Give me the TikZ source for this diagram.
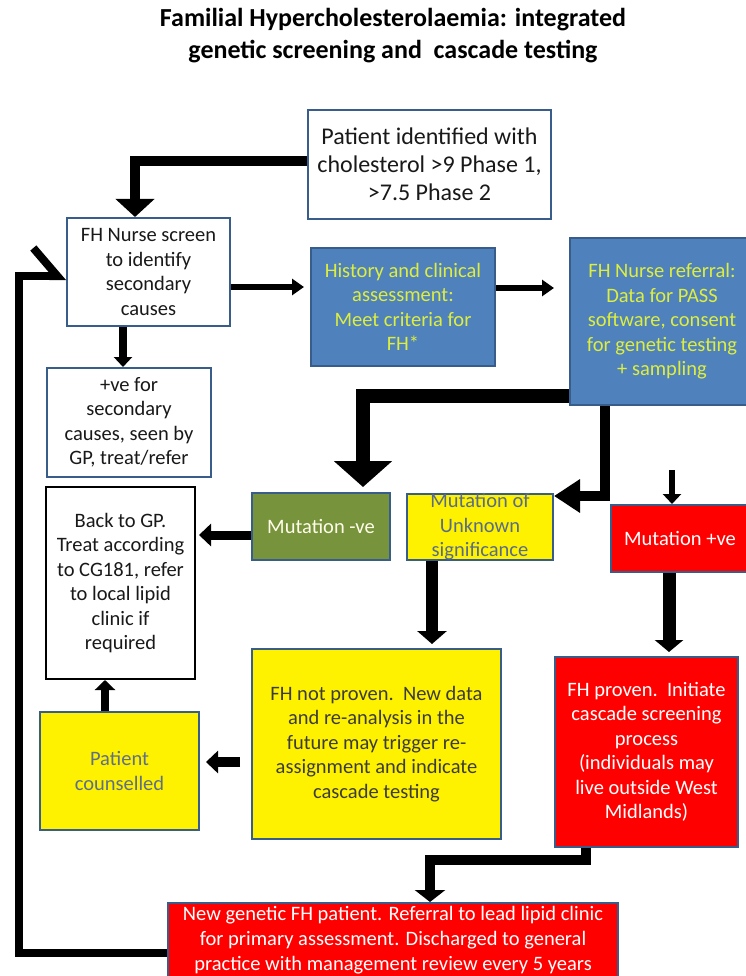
\documentclass[tikz,border=0pt]{standalone}
\usepackage{fontspec}
\setmainfont{Carlito}
\usetikzlibrary{arrows.meta}

\definecolor{boxedge}{RGB}{56,93,138}
\definecolor{boxblue}{RGB}{79,129,189}
\definecolor{boxolive}{RGB}{119,147,60}
\definecolor{hilite}{RGB}{222,238,62}
\definecolor{slate}{RGB}{88,108,138}
\definecolor{darktext}{RGB}{60,60,55}

\tikzset{
  fhbox/.style={draw=boxedge, line width=2pt, inner sep=0pt, align=center,
    font=\fontsize{20.5}{24.5}\selectfont},
  whitebox/.style={fhbox, fill=white, text=black!90},
  bluebox/.style={fhbox, fill=boxblue, text=hilite},
  olivebox/.style={fhbox, fill=boxolive, text=white!92!yellow},
  yellowbox/.style={fhbox, fill=yellow, text=slate},
  redbox/.style={fhbox, fill=red, text=white},
  blk/.style n args={3}{draw=black, line width=#1,
    -{Triangle[width=#2pt, length=#3pt]}},
}

\begin{document}
\begin{tikzpicture}[x=1pt, y=-1pt]
  \clip (0,0) rectangle (746,976);
  \fill[white] (0,0) rectangle (746,976);

  % title
  \node[align=center, font=\fontsize{26}{32}\selectfont\bfseries] (title) at (393,36)
    {Familial Hypercholesterolaemia: integrated\\genetic screening and\ \ cascade testing};

  % top row
  \node[whitebox, minimum width=243, minimum height=109, font=\fontsize{24}{28}\selectfont]
    (patient) at (429.5,164.5) {Patient identified with\\cholesterol >9 Phase 1,\\>7.5 Phase 2};
  \node[whitebox, minimum width=163, minimum height=108] (nurse) at (148.5,272)
    {FH\ Nurse screen\\to identify\\secondary\\causes};
  \node[bluebox, minimum width=184, minimum height=118] (history) at (403,307)
    {History and clinical\\assessment:\\Meet criteria for\\FH*};
  \node[bluebox, minimum width=184, minimum height=167] (referral) at (662,321.5)
    {FH\ Nurse referral:\\Data for PASS\\software, consent\\for genetic testing\\+ sampling};
  \node[whitebox, minimum width=164, minimum height=109] (plusve) at (129,422.5)
    {+ve for\\secondary\\causes, seen by\\GP, treat/refer};

  % test results
  \node[whitebox, draw=black, minimum width=149, minimum height=192] (backgp) at (120.5,583)
    {Back to GP.\\Treat according\\to CG181, refer\\to local lipid\\clinic if\\required};
  \node[olivebox, minimum width=138, minimum height=67] (mutneg) at (321,526.5) {Mutation -ve};
  \node[yellowbox, minimum width=146, minimum height=66,
    label={[align=center, text=slate, font=\fontsize{20.5}{24.5}\selectfont]center:Mutation of\\Unknown\\significance}]
    (unknown) at (480,527) {};
  \node[redbox, minimum width=138, minimum height=67] (mutpos) at (680,538.5) {Mutation +ve};

  % outcomes
  \node[yellowbox, text=darktext, minimum width=249, minimum height=190] (notproven) at (376.5,744)
    {FH not proven.\ \ New data\\and re-analysis in the\\future may trigger re-\\assignment and indicate\\cascade testing};
  \node[yellowbox, text=slate!85!gray, minimum width=159, minimum height=118] (counselled) at (119.5,771)
    {Patient\\counselled};
  \node[redbox, minimum width=183, minimum height=190] (proven) at (646.5,752)
    {FH proven.\ \ Initiate\\cascade screening\\process\\(individuals may\\live outside West\\Midlands)};
  \node[redbox, minimum width=450, minimum height=74, font=\fontsize{20.5}{25}\selectfont] (newfh) at (393,940)
    {New genetic FH patient. Referral to lead lipid clinic\\for primary assessment. Discharged to general\\practice with management review every 5 years};

  % connectors
  \draw[blk={10}{38}{18}] (patient.west |- 0,161) -| ([xshift=-13.5]nurse.north);
  \draw[blk={6}{16}{12}, shorten >=6] (nurse.east |- 0,287) -- (history.west |- 0,287);
  \draw[blk={6}{16}{12}, shorten >=15] (history.east |- 0,288) -- (referral.west |- 0,288);
  \draw[blk={8}{18}{10}] ([xshift=-25.5]nurse.south) -- ([xshift=-6]plusve.north);
  \draw[blk={14}{57}{26}, shorten >=5] (referral.west |- 0,396) -| ([xshift=42]mutneg.north);
  \draw[blk={10}{32}{26}] ([xshift=-57]referral.south) |- (unknown.east |- 0,496);
  \coordinate (mutposin) at (672,470);
  \draw[blk={6}{18}{10}] (mutposin) -- (mutpos.north -| mutposin);
  \draw[blk={9}{22}{12}, shorten >=3] (mutneg.west |- 0,535) -- (backgp.east |- 0,535);
  \draw[blk={12}{29}{13}, shorten >=4] (unknown.south -| 432,0) -- (notproven.north -| 432,0);
  \draw[blk={13}{28}{12}, shorten >=4] (mutpos.south -| 669,0) -- (proven.north -| 669,0);
  \draw[blk={10}{22}{12}, shorten <=11, shorten >=6] (notproven.west |- 0,762) -- (counselled.east |- 0,762);
  \draw[blk={8}{20}{10}] (counselled.north -| 105,0) -- (backgp.south -| 105,0);
  \draw[blk={10}{30}{12}] (proven.south -| 586,0) |- (508,860) -| (newfh.north -| 430,0);
  \draw[line width=8pt, -{Straight Barb[harpoon, length=24pt, width=56pt]}]
    (newfh.west |- 0,953) -| (19,276) -- (nurse.west |- 0,276);
\end{tikzpicture}
\end{document}
